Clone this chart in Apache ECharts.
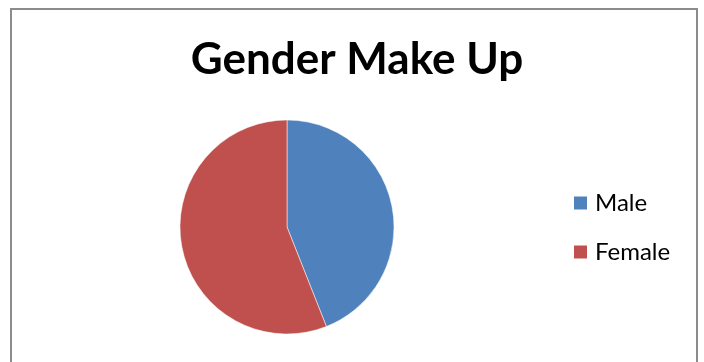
<!DOCTYPE html>
<html>
<head>
<meta charset="utf-8">
<script src="https://cdn.jsdelivr.net/npm/echarts@6/dist/echarts.min.js"></script>
<style>
  html, body { margin: 0; padding: 0; background: #fff; }
  #chart { width: 704px; height: 362px; }
</style>
</head>
<body>
<div id="chart"></div>
<script>
  // 데이터
  const categories = ['Male', 'Female'];
  const values = [44, 56];
  const colors = ['#4F81BD', '#C0504D'];

  const myChart = echarts.init(document.getElementById('chart'));

  const option = {
    animation: false,
    color: colors,
    title: {
      text: 'Gender Make Up',
      left: 357,
      top: 38,
      padding: 0,
      textAlign: 'center',
      textStyle: {
        fontFamily: 'Lato',
        fontSize: 44,
        fontWeight: 'bold',
        color: '#000',
      },
    },
    legend: {
      orient: 'vertical',
      left: 572,
      top: 191,
      padding: 0,
      icon: 'rect',
      itemWidth: 15,
      itemHeight: 15,
      itemGap: 25,
      textStyle: {
        fontFamily: 'Lato',
        fontSize: 24,
        color: '#000',
        padding: [0, 0, 0, 2],
      },
      data: categories,
    },
    graphic: [
      {
        type: 'rect',
        shape: { x: 11, y: 9, width: 686, height: 400 },
        style: { fill: 'none', stroke: '#8c8c8c', lineWidth: 2 },
        z: -1,
      },
    ],
    series: [
      {
        type: 'pie',
        center: [287, 227],
        radius: 107,
        startAngle: 90,
        clockwise: true,
        label: { show: false },
        labelLine: { show: false },
        emphasis: { disabled: true },
        itemStyle: { borderColor: '#fff', borderWidth: 0.5 },
        data: categories.map((name, i) => ({ name: name, value: values[i] })),
      },
    ],
  };

  myChart.setOption(option);
</script>
</body>
</html>
